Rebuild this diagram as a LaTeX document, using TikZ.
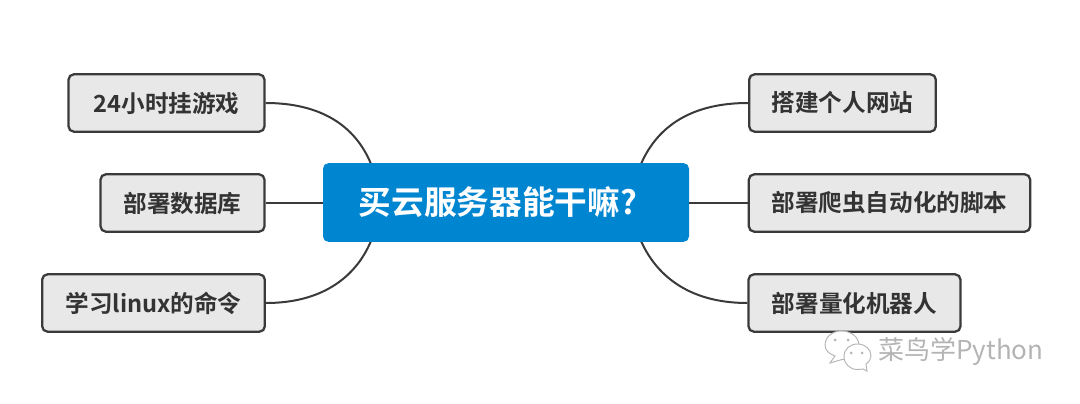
\documentclass[tikz,border=0pt]{standalone}
\usepackage{fontspec}
\setmainfont{Noto Sans CJK SC}[BoldFont={* Bold}]
\definecolor{lnk}{HTML}{3A3A3A}
\definecolor{topicfill}{HTML}{E8E8E8}
\definecolor{mainfill}{HTML}{0085D0}
\definecolor{wmgray}{HTML}{B4B4B4}
\tikzset{
  x=0.75pt,y=-0.75pt,
  topicbox/.style={draw=lnk,line width=1.7pt,fill=topicfill,rounded corners=4pt,inner sep=0pt,text=black!80,font=\fontsize{17.7pt}{21pt}\selectfont\bfseries},
  mainbox/.style={fill=mainfill,rounded corners=4pt,inner sep=0pt},
  lnkline/.style={draw=lnk,line width=1.5pt},
  wmline/.style={draw=wmgray,line width=0.7pt,fill=white}
}
\begin{document}
\begin{tikzpicture}
\useasboundingbox (0,0) rectangle (1080,403);
\fill[white] (0,0) rectangle (1080,403);
\coordinate (ml) at (371,164);
\coordinate (mr) at (641,164);
\coordinate (mbl) at (371,241);
\coordinate (mbr) at (641,241);
\node[topicbox,minimum width=147pt,minimum height=43pt] (a) at (166.5,103) {24小时挂游戏};
\node[topicbox,minimum width=123pt,minimum height=43pt] (b) at (182.5,203) {部署数据库};
\node[topicbox,minimum width=167pt,minimum height=43pt] (c) at (153.5,303) {学习linux的命令};
\node[topicbox,minimum width=140pt,minimum height=43pt] (d) at (842.5,103) {搭建个人网站};
\node[topicbox,minimum width=211pt,minimum height=43pt] (e) at (889.5,203) {部署爬虫自动化的脚本};
\node[topicbox,minimum width=159pt,minimum height=43pt] (f) at (854.5,303) {部署量化机器人};
\draw[lnkline] (a.east) .. controls (320,103) and (355,125) .. (ml);
\draw[lnkline] (c.east) .. controls (320,303) and (355,279) .. (mbl);
\draw[lnkline] (d.west) .. controls (693,103) and (658,125) .. (mr);
\draw[lnkline] (f.west) .. controls (693,303) and (658,279) .. (mbr);
\node[mainbox,minimum width=274.5pt,minimum height=59pt] (main) at (506,202.5) {};
\node[anchor=west,text=white,font=\fontsize{24.5pt}{28pt}\selectfont\bfseries,inner sep=0pt] (maint) at (358.5,202) {买云服务器能干嘛?};
\draw[lnkline] (b.east) -- (b.east -| main.west);
\draw[lnkline] (e.west) -- (e.west -| main.east);
% watermark icon
\path[wmline] (835,356) -- (830,363) -- (842,359.5) .. controls (852,359.5) and (859,353) .. (859,345.5) .. controls (859,337) and (851,331) .. (841.5,331) .. controls (832,331) and (825,337) .. (825,345.5) .. controls (825,350) and (829,354) .. (835,356) -- cycle;
\path[wmline] (863,369) -- (867,371) -- (866,364) .. controls (869,362) and (871,359) .. (871,356) .. controls (871,349) and (865,344) .. (857.5,344) .. controls (850,344) and (844,349) .. (844,356.5) .. controls (844,364) and (850,369.5) .. (857.5,369.5) .. controls (859.5,369.5) and (861,369.5) .. (863,369) -- cycle;
\foreach \px/\py in {835/340,848/340,851/353,862/353}{\fill[wmgray] (\px,\py) circle (1.5);}
\node[anchor=west,inner sep=0pt,text=wmgray,font=\fontsize{19.5pt}{22pt}\selectfont] (wm) at (878,352) {菜鸟学Python};
\end{tikzpicture}
\end{document}
